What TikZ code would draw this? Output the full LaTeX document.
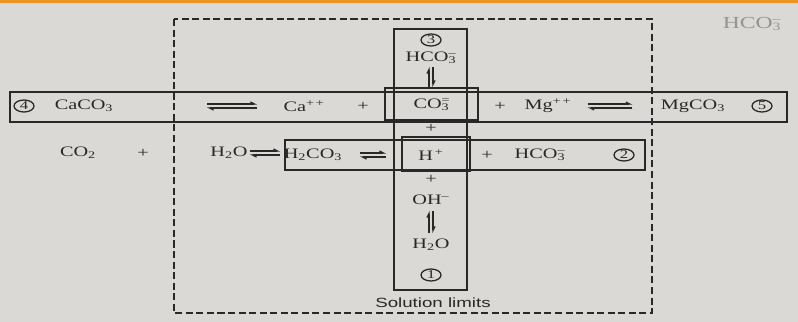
\documentclass[tikz,border=0pt]{standalone}
\usepackage{fontspec}
\setmainfont{Liberation Serif}[FakeStretch=1.4]
\setsansfont{Liberation Sans}[FakeStretch=1.4]
\usetikzlibrary{positioning,shapes.geometric,arrows.meta}

\definecolor{paper}{RGB}{219,217,213}
\definecolor{ink}{RGB}{40,40,40}
\definecolor{pencil}{RGB}{150,148,145}
\definecolor{band}{RGB}{228,152,32}

\newcommand{\ionss}[2]{\rlap{\textsubscript{#1}}\textsuperscript{#2}}

\begin{document}
\begin{tikzpicture}[x=0.025cm,y=-0.025cm,
  chem/.style={text=ink,font=\fontsize{10.3}{12}\selectfont,inner sep=1pt},
  num/.style={ellipse,draw=ink,line width=0.9pt,minimum width=0.5cm,
    minimum height=0.3cm,inner sep=0pt,text=ink,font=\fontsize{8.5}{9}\selectfont},
  box/.style={draw=ink,line width=1pt},
  harp/.style={ink,line width=0.8pt,-{Straight Barb[left,length=3pt,width=3pt]}},
  eqm/.style={minimum width=#1,minimum height=8pt,inner sep=0pt,
    path picture={
      \draw[harp] ([yshift=1.4pt]path picture bounding box.west) -- ([yshift=1.4pt]path picture bounding box.east);
      \draw[harp] ([yshift=-1.4pt]path picture bounding box.east) -- ([yshift=-1.4pt]path picture bounding box.west);}},
  eqv/.style={minimum height=#1,minimum width=8pt,inner sep=0pt,
    path picture={
      \draw[harp] ([xshift=-1.4pt]path picture bounding box.south) -- ([xshift=-1.4pt]path picture bounding box.north);
      \draw[harp] ([xshift=1.4pt]path picture bounding box.north) -- ([xshift=1.4pt]path picture bounding box.south);}}]
  \fill[paper] (0,0) rectangle (798,322);
  \useasboundingbox (0,0) rectangle (798,322);
  \fill[band] (0,0) rectangle (798,3);

  % solution limits
  \draw[ink,line width=0.9pt,dash pattern=on 5pt off 2.5pt] (174,19) rectangle (652,313);

  % boxes
  \draw[box] (394,29) rectangle (467,290);
  \draw[box] (10,92) rectangle (787,122);
  \draw[box] (385,88) rectangle (478,120);
  \draw[box] (285,140) rectangle (645,170);
  \draw[box] (402,137) rectangle (470,171);

  % column
  \node[num] (n3) at (431,40) {3};
  \node[chem] (hco3top) at (431,58) {HCO\ionss{3}{--}};
  \node[eqv=0.5cm] (eq3) at (431,77) {};
  \node[chem] (p1a) at (431,128) {+};
  \node[chem] (p1b) at (431,179) {+};
  \node[chem] (oh) at (431,200) {OH\textsuperscript{--}};
  \node[eqv=0.55cm] (eq1) at (431,222) {};
  \node[chem] (h2o1) at (431,245) {H\textsubscript{2}O};
  \node[num] (n1) at (431,275) {1};

  % row 4-5
  \node[num] (n4) at (24,106) {4};
  \node[chem] (caco3) at (84,106) {CaCO\textsubscript{3}};
  \node[eqm=1.25cm] (eq4a) at (232,106) {};
  \node[chem] (ca) at (304,106) {Ca\textsuperscript{+\,+}};
  \node[chem] (p4a) at (363,106) {+};
  \node[chem] (co3) at (432,105) {CO\ionss{3}{=}};
  \node[chem] (p4b) at (500,106) {+};
  \node[chem] (mg) at (548,106) {Mg\textsuperscript{+\,+}};
  \node[eqm=1.12cm] (eq4b) at (610,106) {};
  \node[chem] (mgco3) at (693,106) {MgCO\textsubscript{3}};
  \node[num] (n5) at (762,106) {5};

  % row 2
  \node[chem] (co2) at (78,153) {CO\textsubscript{2}};
  \node[chem] (p2a) at (143,153) {+};
  \node[chem] (h2o) at (229,153) {H\textsubscript{2}O};
  \node[eqm=0.75cm] (eq2a) at (265,153) {};
  \node[chem] (h2co3) at (313,155) {H\textsubscript{2}CO\textsubscript{3}};
  \node[eqm=0.65cm] (eq2b) at (373,155) {};
  \node[chem] (hplus) at (431,155) {H\textsuperscript{\,+}};
  \node[chem] (p2b) at (487,155) {+};
  \node[chem] (hco3) at (540,155) {HCO\ionss{3}{--}};
  \node[num] (n2) at (624,155) {2};

  \node[chem,font=\sffamily\fontsize{9.5}{11}\selectfont] (limits) at (433,303) {Solution limits};
  \node[chem,text=pencil,font=\fontsize{12}{14}\selectfont] (note) at (752,24) {HCO\ionss{3}{--}};
\end{tikzpicture}
\end{document}
